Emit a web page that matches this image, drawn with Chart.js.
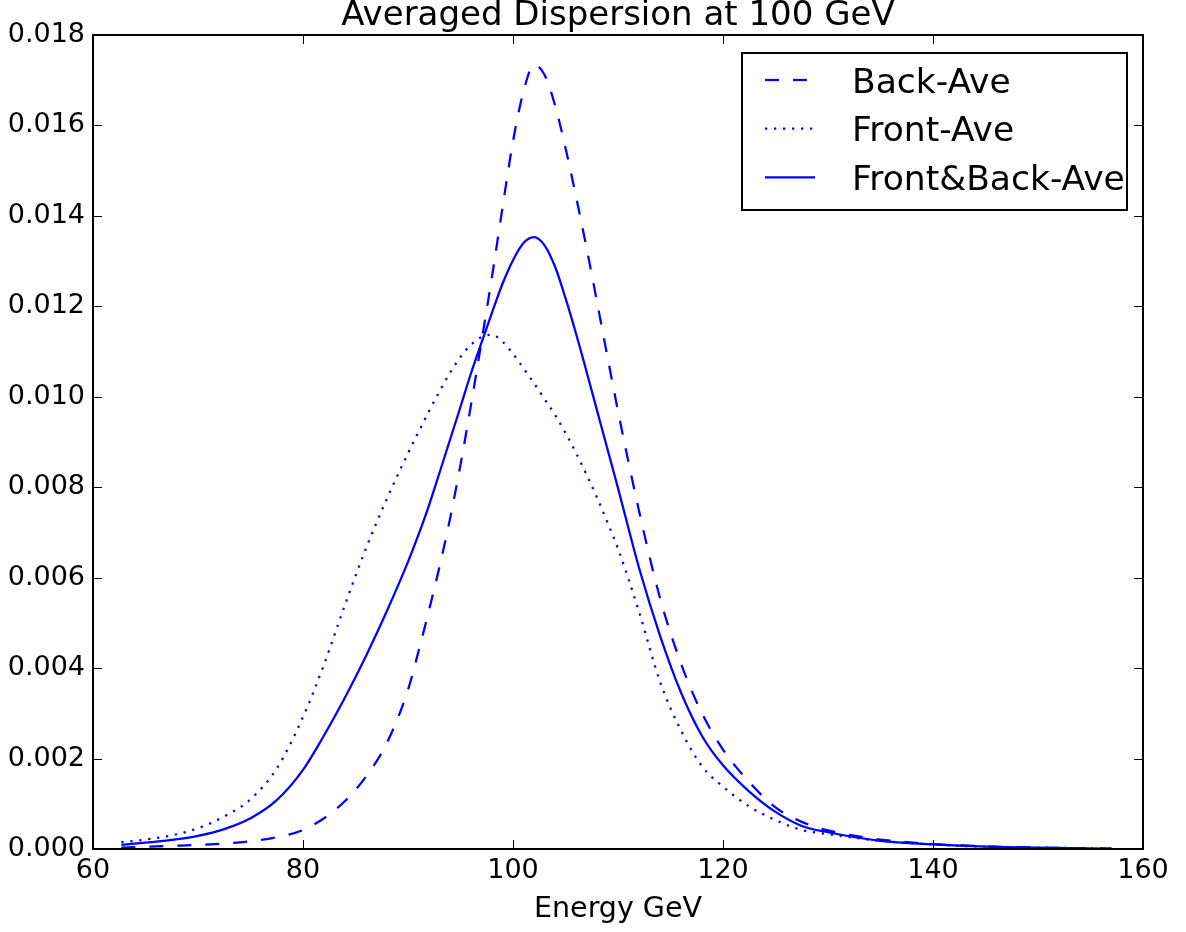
<!DOCTYPE html>
<html>
<head>
<meta charset="utf-8">
<title>Averaged Dispersion at 100 GeV</title>
<script src="https://cdn.jsdelivr.net/npm/chart.js@4.4.1/dist/chart.umd.min.js"></script>
<style>
  html, body { margin: 0; padding: 0; background: #fff; }
  #wrap { width: 1186px; height: 932px; }
</style>
</head>
<body>
<div id="wrap"><canvas id="dispersionChart" width="1186" height="932"></canvas></div>
<script>
// energy grid (GeV) shared by all three curves
const energy = [62.7, 65, 67.5, 70, 72.5, 75, 77.5, 80, 82, 84, 86, 88, 90, 91, 92, 93, 94, 95, 96, 97,
  98, 99, 100, 101, 102, 103, 104, 105, 106, 107, 108, 109, 110, 112, 114, 116, 118, 120, 122.5, 125,
  127.5, 130, 135, 140, 145, 150, 157];

const backAve = [0.00003, 0.00005, 0.00007, 0.00009, 0.00012, 0.00017, 0.00026, 0.00042, 0.00068, 0.00106,
  0.00160, 0.00235, 0.00352, 0.00437, 0.00528, 0.00624, 0.00730, 0.00850, 0.00982, 0.01122,
  0.01266, 0.01418, 0.01565, 0.01675, 0.01734, 0.01712, 0.01645, 0.01550, 0.01443, 0.01330,
  0.01210, 0.01088, 0.00968, 0.00748, 0.00555, 0.00410, 0.00300, 0.00220, 0.00148, 0.00092,
  0.00060, 0.00041, 0.00021, 0.00011, 0.00006, 0.00003, 0.00001];

const frontAve = [0.00015, 0.00021, 0.00030, 0.00046, 0.00072, 0.00110, 0.00178, 0.00292, 0.00408, 0.00540,
  0.00665, 0.00775, 0.00875, 0.00922, 0.00968, 0.01012, 0.01053, 0.01088, 0.01115, 0.01132,
  0.01137, 0.01122, 0.01095, 0.01063, 0.01030, 0.00995, 0.00960, 0.00920, 0.00876, 0.00828,
  0.00777, 0.00722, 0.00664, 0.00525, 0.00370, 0.00262, 0.00183, 0.00138, 0.00094, 0.00064,
  0.00042, 0.00033, 0.00018, 0.00010, 0.00005, 0.00003, 0.00001];

const frontBackAve = [0.00009, 0.00014, 0.00020, 0.00029, 0.00044, 0.00068, 0.00108, 0.00175, 0.00251, 0.00335,
  0.00427, 0.00527, 0.00635, 0.00695, 0.00760, 0.00832, 0.00905, 0.00978, 0.01052, 0.01120,
  0.01186, 0.01250, 0.01302, 0.01340, 0.01353, 0.01335, 0.01288, 0.01218, 0.01140, 0.01056,
  0.00970, 0.00884, 0.00798, 0.00622, 0.00472, 0.00346, 0.00250, 0.00185, 0.00127, 0.00082,
  0.00051, 0.00037, 0.00018, 0.00010, 0.00005, 0.00003, 0.00001];

const xTicks = [60, 80, 100, 120, 140, 160];
const yTicks = [0, 0.002, 0.004, 0.006, 0.008, 0.010, 0.012, 0.014, 0.016, 0.018];

const FONT = "'DejaVu Sans', sans-serif";
const BLUE = '#0000ff';

const toPoints = (ys) => energy.map((e, i) => ({ x: e, y: ys[i] }));

// title above the frame
const titlePlugin = {
  id: 'titlePlugin',
  afterDraw(chart) {
    const { ctx, chartArea: a } = chart;
    ctx.save();
    ctx.fillStyle = '#000';
    ctx.font = '34px ' + FONT;
    ctx.textAlign = 'center';
    ctx.textBaseline = 'alphabetic';
    ctx.fillText('Averaged Dispersion at 100 GeV', (a.left + a.right) / 2, 25);
    ctx.restore();
  }
};

// box frame with inward ticks on all four sides
const frameTicks = {
  id: 'frameTicks',
  afterDatasetsDraw(chart) {
    const { ctx, chartArea: a, scales: { x, y } } = chart;
    const len = 9;
    ctx.save();
    ctx.strokeStyle = '#000';
    ctx.lineWidth = 1;
    ctx.beginPath();
    xTicks.forEach(v => {
      const px = Math.round(x.getPixelForValue(v)) + 0.5;
      ctx.moveTo(px, a.bottom); ctx.lineTo(px, a.bottom - len);
      ctx.moveTo(px, a.top); ctx.lineTo(px, a.top + len);
    });
    yTicks.forEach(v => {
      const py = Math.round(y.getPixelForValue(v)) + 0.5;
      ctx.moveTo(a.left, py); ctx.lineTo(a.left + len, py);
      ctx.moveTo(a.right, py); ctx.lineTo(a.right - len, py);
    });
    ctx.stroke();
    ctx.lineWidth = 2;
    ctx.strokeRect(a.left, a.top, a.right - a.left, a.bottom - a.top);
    ctx.restore();
  }
};

// legend box in the upper right corner
const boxLegend = {
  id: 'boxLegend',
  afterDraw(chart) {
    const { ctx } = chart;
    const box = { x: 742, y: 53, w: 385, h: 157 };
    ctx.save();
    ctx.fillStyle = '#fff';
    ctx.fillRect(box.x, box.y, box.w, box.h);
    ctx.strokeStyle = '#000';
    ctx.lineWidth = 2;
    ctx.strokeRect(box.x, box.y, box.w, box.h);
    ctx.font = '34.5px ' + FONT;
    ctx.textAlign = 'left';
    ctx.textBaseline = 'alphabetic';
    chart.data.datasets.forEach((ds, i) => {
      const cy = 80 + i * 48.7;
      ctx.strokeStyle = ds.borderColor;
      ctx.lineWidth = ds.borderWidth;
      ctx.setLineDash(ds.borderDash || []);
      ctx.beginPath();
      ctx.moveTo(765, cy);
      ctx.lineTo(815, cy);
      ctx.stroke();
      ctx.setLineDash([]);
      ctx.fillStyle = '#000';
      ctx.fillText(ds.label, 852, cy + 12.5);
    });
    ctx.restore();
  }
};

new Chart(document.getElementById('dispersionChart'), {
  type: 'line',
  data: {
    datasets: [
      {
        label: 'Back-Ave',
        data: toPoints(backAve),
        borderColor: BLUE,
        borderWidth: 2.25,
        borderDash: [14, 14],
        pointRadius: 0,
        cubicInterpolationMode: 'monotone'
      },
      {
        label: 'Front-Ave',
        data: toPoints(frontAve),
        borderColor: BLUE,
        borderWidth: 2.25,
        borderDash: [2.25, 6.75],
        pointRadius: 0,
        cubicInterpolationMode: 'monotone'
      },
      {
        label: 'Front&Back-Ave',
        data: toPoints(frontBackAve),
        borderColor: BLUE,
        borderWidth: 2.25,
        pointRadius: 0,
        cubicInterpolationMode: 'monotone'
      }
    ]
  },
  options: {
    responsive: false,
    animation: false,
    devicePixelRatio: 1,
    layout: { padding: { top: 35, right: 43, left: 0, bottom: 0 } },
    plugins: {
      legend: { display: false },
      title: { display: false },
      tooltip: { enabled: false }
    },
    scales: {
      x: {
        type: 'linear',
        min: 60,
        max: 160,
        grid: { display: false, drawTicks: false },
        border: { display: false },
        afterBuildTicks: (s) => { s.ticks = xTicks.map(v => ({ value: v })); },
        afterFit: (s) => { s.height = 83; },
        ticks: {
          color: '#000',
          font: { family: FONT, size: 27 },
          padding: 6,
          maxRotation: 0,
          callback: (v) => String(v)
        },
        title: {
          display: true,
          text: 'Energy GeV',
          color: '#000',
          font: { family: FONT, size: 28.5 },
          padding: { top: 0, bottom: 5 }
        }
      },
      y: {
        min: 0,
        max: 0.018,
        grid: { display: false, drawTicks: false },
        border: { display: false },
        afterBuildTicks: (s) => { s.ticks = yTicks.map(v => ({ value: v })); },
        afterFit: (s) => { s.width = 93; },
        ticks: {
          color: '#000',
          font: { family: FONT, size: 27 },
          padding: 8,
          callback: (v) => v.toFixed(3)
        }
      }
    }
  },
  plugins: [titlePlugin, frameTicks, boxLegend]
});
</script>
</body>
</html>
